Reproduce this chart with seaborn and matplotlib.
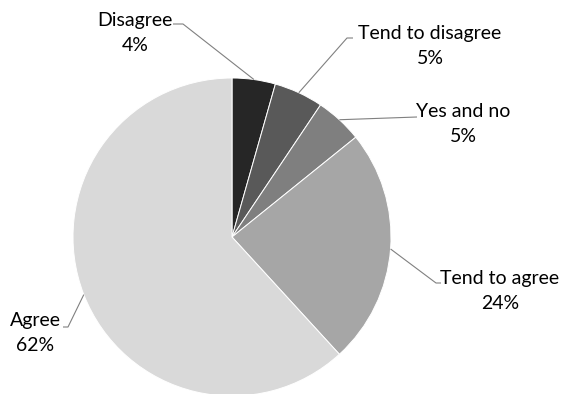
import matplotlib
matplotlib.use("Agg")
import matplotlib.pyplot as plt
import seaborn as sns
import numpy as np

# ---- data ----
categories = ["Disagree", "Tend to disagree", "Yes and no", "Tend to agree", "Agree"]
values = [4.4, 5.0, 4.8, 24.0, 61.8]
pct_labels = ["4%", "5%", "5%", "24%", "62%"]
colors = ["#262626", "#595959", "#7f7f7f", "#a6a6a6", "#d9d9d9"]

# ---- layout (pixel geometry of reference) ----
W, H = 561, 394
CX, CY, R = 232, 237, 159
# label block centres (px) and leader start points (px, near text)
label_pos = [(135, 33), (430, 46), (463, 124), (500, 291), (35, 333)]
leader_pts = [
    [(173, 24), (183, 24)],
    [(353, 38), (347, 38)],
    [(417, 117)],
    [(441, 283), (436, 283)],
    [(63, 327), (68, 327)],
]

def to_data(p):
    return ((p[0] - CX) / R, (CY - p[1]) / R)

sns.set_theme(style="white")
plt.rcParams["font.family"] = ["Lato", "DejaVu Sans"]

fig = plt.figure(figsize=(W / 100, H / 100), dpi=100)
ax = fig.add_axes([0, 0, 1, 1])
wedges, _ = ax.pie(values, colors=colors, startangle=90, counterclock=False,
                   radius=1.0, wedgeprops=dict(edgecolor="white", linewidth=0.7))
ax.set_aspect("auto")
ax.set_xlim(-CX / R, (W - CX) / R)
ax.set_ylim(-(H - CY) / R, CY / R)
ax.axis("off")

for w, cat, pct, lp, pts in zip(wedges, categories, pct_labels, label_pos, leader_pts):
    mid = np.deg2rad((w.theta1 + w.theta2) / 2)
    anchor = (np.cos(mid), np.sin(mid))
    xs = [to_data(p)[0] for p in pts] + [anchor[0]]
    ys = [to_data(p)[1] for p in pts] + [anchor[1]]
    ax.plot(xs, ys, color="#808080", lw=0.8, solid_capstyle="butt")
    tx, ty = to_data(lp)
    ax.text(tx, ty, f"{cat}\n{pct}", ha="center", va="center", fontsize=14,
            color="black", linespacing=1.6)

fig.savefig("out.png", dpi=100, facecolor="white")
